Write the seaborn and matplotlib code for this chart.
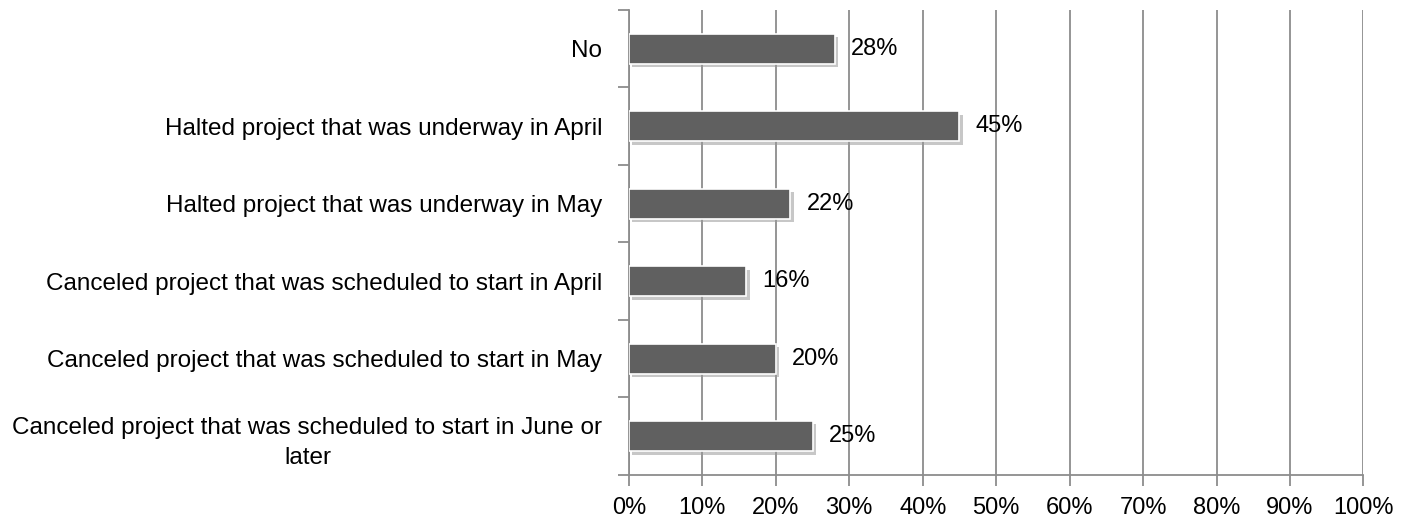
import matplotlib
matplotlib.use("Agg")
import matplotlib.pyplot as plt
import matplotlib.patheffects as pe
import seaborn as sns
import numpy as np
import pandas as pd

categories = [
    "No",
    "Halted project that was underway in April",
    "Halted project that was underway in May",
    "Canceled project that was scheduled to start in April",
    "Canceled project that was scheduled to start in May",
    "Canceled project that was scheduled to start in June or\nlater",
]
values = [28, 45, 22, 16, 20, 25]
x_ticks = list(range(0, 101, 10))

df = pd.DataFrame({"category": categories, "value": values})

sns.set_theme(style="white")
plt.rcParams["font.family"] = ["Liberation Sans", "DejaVu Sans"]

fig, ax = plt.subplots(figsize=(14.1, 5.23), dpi=100)
fig.subplots_adjust(left=0.446, right=0.967, top=0.981, bottom=0.092)

sns.barplot(data=df, x="value", y="category", color="#606060", saturation=1,
            width=0.39, edgecolor="white", linewidth=1.2, ax=ax, zorder=3)

for bar in ax.patches:
    bar.set_path_effects([pe.SimplePatchShadow(offset=(2.5, -2.5), shadow_rgbFace="#999999", alpha=0.55),
                          pe.Normal()])

for i, v in enumerate(values):
    ax.text(v + 2.2, i, f"{v}%", va="center", ha="left", fontsize=17, color="black", zorder=4)

ax.set_xlim(0, 100)
ax.set_ylim(len(categories) - 0.5, -0.5)
ax.set_xticks(x_ticks)
ax.set_xticklabels([f"{t}%" for t in x_ticks], fontsize=17, color="black")
ax.set_xlabel("")
ax.set_ylabel("")

ax.grid(axis="x", color="#8c8c8c", linewidth=1.3, zorder=0)
ax.grid(axis="y", visible=False)

for s in ["top", "right"]:
    ax.spines[s].set_visible(False)
for s in ["left", "bottom"]:
    ax.spines[s].set_color("#8c8c8c")
    ax.spines[s].set_linewidth(1.3)

ax.tick_params(axis="x", bottom=True, length=8, width=1.3, color="#8c8c8c", pad=8)
ax.tick_params(axis="y", which="major", left=False, length=0, pad=19, labelsize=17.5, labelcolor="black")
ax.set_yticks(np.arange(-0.5, len(categories), 1.0), minor=True)
ax.tick_params(axis="y", which="minor", left=True, length=8, width=1.3, color="#8c8c8c")
for lbl in ax.get_yticklabels():
    lbl.set_multialignment("center")
    lbl.set_linespacing(1.5)

fig.savefig("out.png", dpi=100)
